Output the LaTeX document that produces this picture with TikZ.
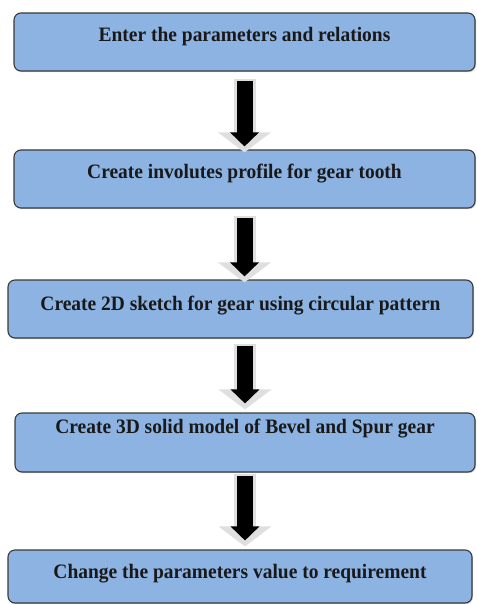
\documentclass[tikz,border=0pt]{standalone}
\usepackage{fontspec}
\setmainfont{Liberation Serif}[FakeStretch=0.95]
\usetikzlibrary{arrows.meta,shadows}
\definecolor{boxblue}{HTML}{8DB3E2}
\definecolor{boxline}{HTML}{3A3A3A}
\tikzset{
  stepbox/.style={draw=boxline, line width=1.1pt, fill=boxblue, rounded corners=7pt,
    inner sep=0pt, text=black!90, font=\bfseries\fontsize{20.5}{23}\selectfont,
    drop shadow={shadow xshift=1pt, shadow yshift=-1.2pt, opacity=0.35}},
  flowarrow/.style={line width=16pt, black, shorten <=2pt, shorten >=6pt,
    -{Triangle[length=14pt, width=28pt]},
    preaction={draw=gray!25, line width=22pt, shorten <=0pt, shorten >=0pt,
      -{Triangle[length=20pt, width=52pt]}}}
}
\begin{document}
\begin{tikzpicture}[x=1pt,y=1pt]
\useasboundingbox (0,0) rectangle (476,-604);
\node[stepbox, minimum width=461pt, text height=28.5pt, text depth=29.5pt] (b1) at (244.5,-42) {Enter the parameters and relations};
\node[stepbox, minimum width=461pt, text height=28pt, text depth=30pt] (b2) at (244.5,-179) {Create involutes profile for gear tooth};
\node[stepbox, minimum width=465pt, text height=30pt, text depth=28pt] (b3) at (240.5,-309) {Create 2D sketch for gear using circular pattern};
\node[stepbox, minimum width=460pt, text height=20pt, text depth=39pt] (b4) at (245,-442.5) {Create 3D solid model of Bevel and Spur gear};
\node[stepbox, minimum width=464pt, text height=28pt, text depth=25pt] (b5) at (240,-576.5) {Change the parameters value to requirement};

\path[draw,flowarrow] ([yshift=-7pt]b1.south) -- ([yshift=-3pt]b2.north);
\path[draw,flowarrow] ([yshift=-7pt]b2.south) -- ([xshift=4pt,yshift=-3pt]b3.north);
\path[draw,flowarrow] ([xshift=4.5pt,yshift=-5pt]b3.south) -- ([yshift=3pt]b4.north);
\path[draw,flowarrow] ([yshift=-1pt]b4.south) -- ([xshift=5pt,yshift=3pt]b5.north);
\end{tikzpicture}
\end{document}
